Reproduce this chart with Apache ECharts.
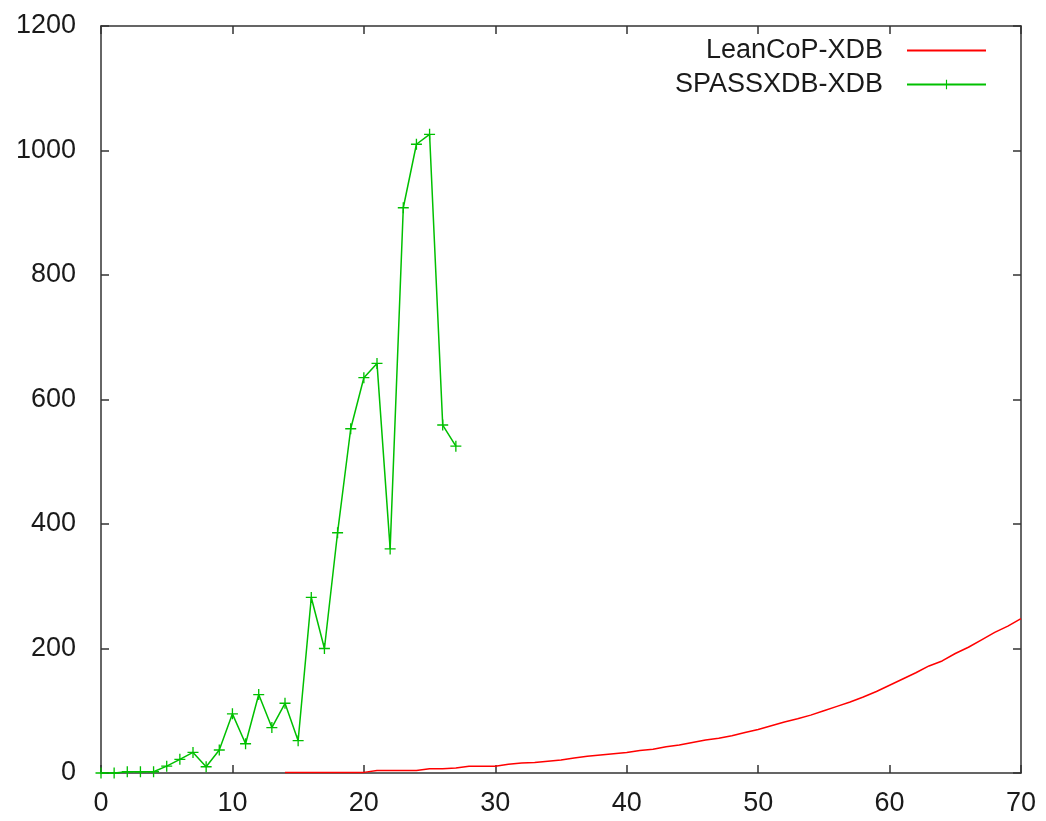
<!DOCTYPE html>
<html>
<head>
    <meta charset="utf-8" />
    <title>LeanCoP vs SPASSXDB</title>
    <style>
        html, body { margin: 0; padding: 0; background: #fff; }
    </style>
</head>
<body>
<div id="container" style="width: 1046px; height: 821px;"></div>

<script src="https://cdn.jsdelivr.net/npm/echarts@6/dist/echarts.min.js"></script>
<script type="text/javascript">
    // data
    var xTicks = [0, 10, 20, 30, 40, 50, 60, 70];
    var yTicks = [0, 200, 400, 600, 800, 1000, 1200];

    var leanX = [14, 15, 16, 17, 18, 19, 20, 21, 22, 23, 24, 25, 26, 27, 28, 29, 30,
        31, 32, 33, 34, 35, 36, 37, 38, 39, 40, 41, 42, 43, 44, 45, 46, 47, 48, 49, 50,
        51, 52, 53, 54, 55, 56, 57, 58, 59, 60, 61, 62, 63, 64, 65, 66, 67, 68, 69, 70];
    var leanY = [1, 1, 1, 1, 1, 1, 1, 4, 4, 4, 4, 7, 7, 8, 11, 11, 11,
        14, 16, 17, 19, 21, 24, 27, 29, 31, 33, 36, 38, 42, 45, 49, 53, 56, 60, 65, 70,
        76, 82, 87, 93, 100, 107, 114, 122, 131, 141, 151, 161, 172, 180, 192, 202, 214, 226, 236, 248];

    var spassX = [0, 1, 2, 3, 4, 5, 6, 7, 8, 9, 10, 11, 12, 13, 14, 15, 16, 17, 18, 19,
        20, 21, 22, 23, 24, 25, 26, 27];
    var spassY = [0, 0, 2, 2, 2, 11, 22, 33, 10, 37, 95, 47, 126, 73, 112, 52, 282, 200, 386, 553,
        635, 658, 360, 908, 1010, 1026, 559, 525];

    function pairs(xs, ys) {
        var out = [];
        for (var i = 0; i < xs.length; i++) {
            out.push([xs[i], ys[i]]);
        }
        return out;
    }

    var font = '"Liberation Sans", Arial, sans-serif';
    var axisColor = '#333';
    var textColor = '#1a1a1a';
    var fontSize = 27;
    var plus = 'path://M0,4.4H10V5.6H0Z M4.4,0H5.6V10H4.4Z';

    function plain(v) {
        return String(v);
    }

    function xAxisOpt(pos, labels) {
        return {
            type: 'value',
            position: pos,
            min: xTicks[0],
            max: xTicks[xTicks.length - 1],
            interval: 10,
            axisLine: { show: true, onZero: false, lineStyle: { color: axisColor, width: 1.5 } },
            axisTick: { show: true, inside: true, length: 8, lineStyle: { color: axisColor, width: 1.5 } },
            axisLabel: { show: labels, margin: 17, color: textColor, fontSize: fontSize, fontFamily: font, formatter: plain },
            splitLine: { show: false }
        };
    }

    function yAxisOpt(pos, labels) {
        return {
            type: 'value',
            position: pos,
            min: yTicks[0],
            max: yTicks[yTicks.length - 1],
            interval: 200,
            axisLine: { show: true, onZero: false, lineStyle: { color: axisColor, width: 1.5 } },
            axisTick: { show: true, inside: true, length: 8, lineStyle: { color: axisColor, width: 1.5 } },
            axisLabel: { show: labels, margin: 25, color: textColor, fontSize: fontSize, fontFamily: font, formatter: plain },
            splitLine: { show: false }
        };
    }

    var chart = echarts.init(document.getElementById('container'), null, { renderer: 'canvas' });

    chart.setOption({
        animation: false,
        backgroundColor: '#fff',
        grid: { left: 101, right: 25, top: 26, bottom: 48, containLabel: false },
        legend: {
            orient: 'vertical',
            right: 59,
            top: 37,
            padding: 0,
            align: 'right',
            itemWidth: 79,
            itemHeight: 12,
            itemGap: 7,
            textStyle: {
                color: textColor,
                fontSize: fontSize,
                fontFamily: font,
                padding: [0, 19, 0, 0]
            },
            data: [
                { name: 'LeanCoP-XDB', itemStyle: { opacity: 0 } },
                { name: 'SPASSXDB-XDB' }
            ]
        },
        xAxis: [xAxisOpt('bottom', true), xAxisOpt('top', false)],
        yAxis: [yAxisOpt('left', true), yAxisOpt('right', false)],
        series: [{
            name: 'LeanCoP-XDB',
            type: 'line',
            symbol: 'none',
            data: pairs(leanX, leanY),
            lineStyle: { color: '#ff0000', width: 1.5 },
            itemStyle: { color: '#ff0000' }
        }, {
            name: 'SPASSXDB-XDB',
            type: 'line',
            symbol: plus,
            symbolSize: 11,
            clip: false,
            data: pairs(spassX, spassY),
            lineStyle: { color: '#00c000', width: 1.5 },
            itemStyle: { color: '#00c000' }
        }]
    });
</script>
</body>
</html>
